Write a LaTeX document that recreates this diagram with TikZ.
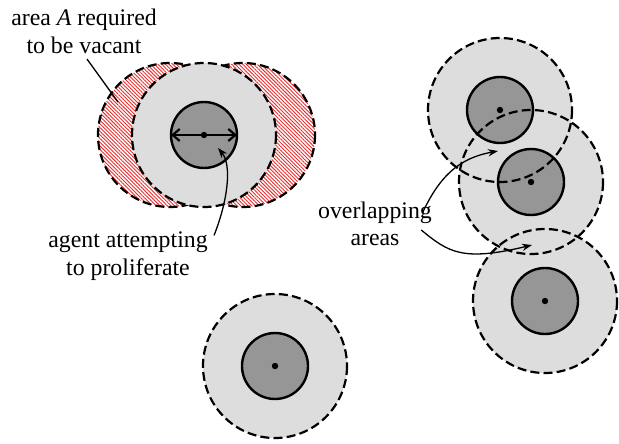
\documentclass[tikz,border=0pt]{standalone}
\usepackage{fontspec}
\setmainfont{Liberation Serif}
\usetikzlibrary{arrows.meta,patterns.meta}
\definecolor{zonegrey}{RGB}{221,221,221}
\definecolor{agentgrey}{RGB}{150,150,150}
\definecolor{hatchred}{RGB}{235,45,45}
\begin{document}
\begin{tikzpicture}[x=0.5pt,y=-0.5pt,
  zone/.style={circle,inner sep=0pt,outer sep=0pt,minimum size=72pt,fill=zonegrey},
  zonedash/.style={line width=1.1pt,dash pattern=on 4.5pt off 2.1pt},
  agent/.style={circle,inner sep=0pt,outer sep=0pt,minimum size=33pt,fill=agentgrey,draw=black,line width=1.2pt},
  hatch/.style={pattern={Lines[angle=-45,distance=1.3pt,line width=0.45pt]},pattern color=hatchred},
  dotc/.style={fill=black},
  ptr/.style={line width=0.65pt,-{Stealth[length=5pt,width=3.6pt]}},
  lbl/.style={align=center,inner sep=0pt,font=\fontsize{11.9pt}{13.8pt}\selectfont}]
\useasboundingbox (0,0) rectangle (619,443);

% ---- left cluster: proliferating agent with hatched area ----
\coordinate (lobeL) at (170,135);
\coordinate (lobeR) at (243,135);
\fill[hatch] (lobeL) circle[radius=72];
\fill[hatch] (lobeR) circle[radius=72];
\draw[zonedash] (lobeL) circle[radius=72];
\draw[zonedash] (lobeR) circle[radius=72];
\node[zone] (zA) at (204,135) {};
\draw[zonedash] (zA.center) circle[radius=72];
\node[agent] (aA) at (204,135) {};
\draw[line width=1.1pt,{Straight Barb[length=3.5pt,width=6pt]}-{Straight Barb[length=3.5pt,width=6pt]}] (aA.west) -- (aA.east);
\fill[dotc] (aA.center) circle[radius=3.2];

% ---- lone agent bottom ----
\node[zone] (zB) at (275,366) {};
\node[agent] (aB) at (275,366) {};
\fill[dotc] (aB.center) circle[radius=3.2];
\draw[zonedash] (zB.center) circle[radius=72];

% ---- right cluster ----
\node[zone] (z1) at (500,110) {};
\node[zone] (z2) at (531,182) {};
\node[zone] (z3) at (545,301) {};
\node[agent] (a1) at (500,110) {};
\node[agent] (a2) at (531,182) {};
\node[agent] (a3) at (545,301) {};
\fill[dotc] (a1.center) circle[radius=3.2];
\fill[dotc] (a2.center) circle[radius=3.2];
\fill[dotc] (a3.center) circle[radius=3.2];
\draw[zonedash] (z1.center) circle[radius=72];
\draw[zonedash] (z2.center) circle[radius=72];
\draw[zonedash] (z3.center) circle[radius=72];

% ---- labels ----
\node[lbl] (tArea) at (84,31.5) {area \textit{A} required\\to be vacant};
\node[lbl] (tAgent) at (128,256) {agent attempting\\to proliferate};
\node[lbl] (tOver) at (375,224) {overlapping\\areas};

\coordinate (pHatch) at (118,102);
\coordinate (pAgent) at (218,148);
\coordinate (pOv1) at (498,151);
\coordinate (pOv2) at (532,245);

\draw[line width=0.65pt] ([xshift=1.5pt,yshift=-2.5pt]tArea.south) -- (pHatch);
\draw[ptr] ([xshift=3pt,yshift=-2pt]tAgent.north east) .. controls (228,200) and (232,165) .. (pAgent);
\draw[ptr] ([xshift=-5pt,yshift=-6pt]tOver.north east) .. controls (440,175) and (460,158) .. (pOv1);
\draw[ptr] ([xshift=-5.5pt,yshift=-3pt]tOver.east) .. controls (448,252) and (462,262) .. (pOv2);
\end{tikzpicture}
\end{document}
